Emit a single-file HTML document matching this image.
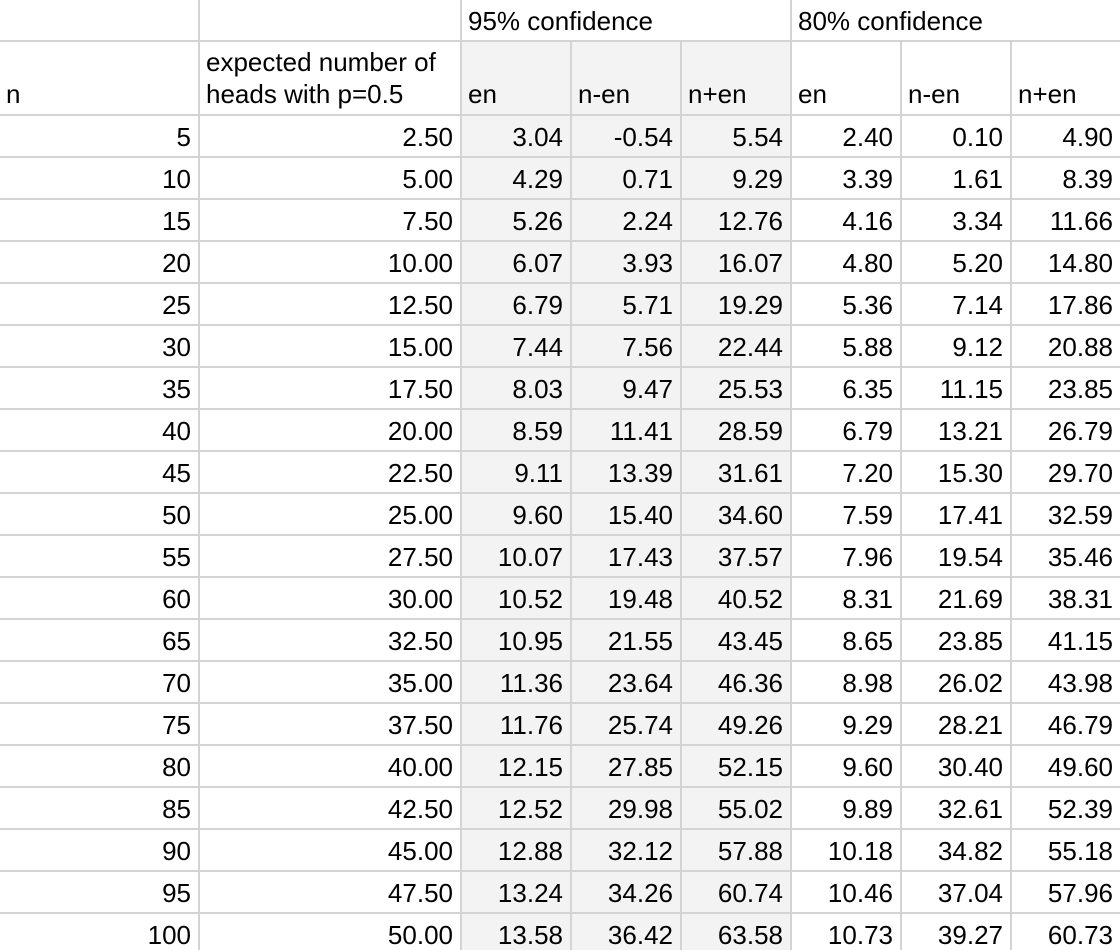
<!DOCTYPE html>
<html><head><meta charset="utf-8">
<style>
html,body{margin:0;padding:0;background:#fff;}
#sheet{position:relative;width:1120px;height:950px;overflow:hidden;font-family:"Liberation Sans",Arial,sans-serif;font-size:26px;color:#000;}
.c{position:absolute;box-sizing:border-box;border-right:2px solid #d4d4d4;border-bottom:2px solid #d4d4d4;display:flex;align-items:flex-end;padding:0 7px 4px 6px;line-height:30px;white-space:nowrap;overflow:hidden;}
.r{justify-content:flex-end;}
.g{background:#f3f3f3;}
</style></head><body>
<div id="sheet"></div>
<script>
const nValues=[5,10,15,20,25,30,35,40,45,50,55,60,65,70,75,80,85,90,95,100];
const expected=["2.50","5.00","7.50","10.00","12.50","15.00","17.50","20.00","22.50","25.00","27.50","30.00","32.50","35.00","37.50","40.00","42.50","45.00","47.50","50.00"];
const en95=["3.04","4.29","5.26","6.07","6.79","7.44","8.03","8.59","9.11","9.60","10.07","10.52","10.95","11.36","11.76","12.15","12.52","12.88","13.24","13.58"];
const nMinus95=["-0.54","0.71","2.24","3.93","5.71","7.56","9.47","11.41","13.39","15.40","17.43","19.48","21.55","23.64","25.74","27.85","29.98","32.12","34.26","36.42"];
const nPlus95=["5.54","9.29","12.76","16.07","19.29","22.44","25.53","28.59","31.61","34.60","37.57","40.52","43.45","46.36","49.26","52.15","55.02","57.88","60.74","63.58"];
const en80=["2.40","3.39","4.16","4.80","5.36","5.88","6.35","6.79","7.20","7.59","7.96","8.31","8.65","8.98","9.29","9.60","9.89","10.18","10.46","10.73"];
const nMinus80=["0.10","1.61","3.34","5.20","7.14","9.12","11.15","13.21","15.30","17.41","19.54","21.69","23.85","26.02","28.21","30.40","32.61","34.82","37.04","39.27"];
const nPlus80=["4.90","8.39","11.66","14.80","17.86","20.88","23.85","26.79","29.70","32.59","35.46","38.31","41.15","43.98","46.79","49.60","52.39","55.18","57.96","60.73"];

const colX=[0,200,462,572,682,792,902,1012,1122];
const sheet=document.getElementById('sheet');
function cell(x0,x1,y0,y1,html,cls,name){
  const d=document.createElement('div');
  d.className='c '+(cls||'');
  d.style.left=x0+'px';d.style.top=y0+'px';
  d.style.width=(x1-x0)+'px';d.style.height=(y1-y0)+'px';
  d.innerHTML=html;
  
  
  sheet.appendChild(d);
  return d;
}
cell(colX[0],colX[1],0,42,'','', 'header-blank-n');
cell(colX[1],colX[2],0,42,'','', 'header-blank-expected');
cell(colX[2],colX[5],0,42,'95% confidence','', 'header-95-confidence');
cell(colX[5],colX[8],0,42,'80% confidence','', 'header-80-confidence');
const h2=['n','expected number of<br>heads with p=0.5','en','n-en','n+en','en','n-en','n+en'];
const h2names=['header-n','header-expected','header-en-95','header-n-minus-en-95','header-n-plus-en-95','header-en-80','header-n-minus-en-80','header-n-plus-en-80'];
for(let i=0;i<8;i++){
  const d=cell(colX[i],colX[i+1],42,116,h2[i],(i>=2&&i<=4)?'g':'',h2names[i]);
  d.style.lineHeight='32px';
}
const cols=[nValues,expected,en95,nMinus95,nPlus95,en80,nMinus80,nPlus80];
const colNames=['n','expected','en-95','n-minus-en-95','n-plus-en-95','en-80','n-minus-en-80','n-plus-en-80'];
for(let r=0;r<nValues.length;r++){
  const y=116+r*42;
  for(let i=0;i<8;i++){
    cell(colX[i],colX[i+1],y,y+42,String(cols[i][r]),'r'+((i>=2&&i<=4)?' g':''),'cell-'+colNames[i]+'-row-'+(r+1));
  }
}
</script>
</body></html>
